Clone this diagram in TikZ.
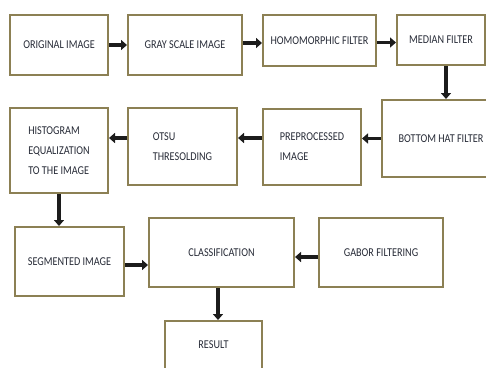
\documentclass[tikz,border=0pt]{standalone}
\usepackage{fontspec}
\setmainfont{Carlito}[FakeStretch=0.85]
\usetikzlibrary{arrows.meta}
\definecolor{boxborder}{RGB}{140,128,84}
\definecolor{arrowcol}{RGB}{28,28,28}
\definecolor{txtcol}{RGB}{40,44,56}
\tikzset{
  box/.style={draw=boxborder, line width=2pt, fill=white, rectangle, inner sep=2pt,
    align=left, font=\fontsize{12}{20}\selectfont, text=txtcol},
  flow/.style={draw=arrowcol, line width=3.6pt, -{Triangle[length=6pt,width=10pt]}}
}
\begin{document}
\begin{tikzpicture}[x=1pt,y=-1pt]
\useasboundingbox (0,0) rectangle (486,367);
\clip (0,0) rectangle (486,367);
\node[box, minimum width=98, minimum height=60] (orig) at (59,45) {ORIGINAL IMAGE};
\node[box, minimum width=114, minimum height=60] (gray) at (185,45) {GRAY SCALE IMAGE};
\node[box, minimum width=113, minimum height=51] (homo) at (319.5,40.5) {HOMOMORPHIC FILTER};
\node[box, minimum width=88, minimum height=50] (median) at (441,40) {MEDIAN FILTER};
\node[box, minimum width=118, minimum height=77] (bottom) at (441,138.5) {BOTTOM HAT FILTER};
\node[box, minimum width=98, minimum height=76] (pre) at (312,147) {PREPROCESSED\\IMAGE};
\node[box, minimum width=109, minimum height=77] (otsu) at (182.5,146.5) {OTSU\\THRESOLDING};
\node[box, minimum width=98, minimum height=85] (hist) at (59,150.5) {HISTOGRAM\\EQUALIZATION\\TO THE IMAGE};
\node[box, minimum width=109, minimum height=69] (seg) at (69.5,261.5) {SEGMENTED IMAGE};
\node[box, minimum width=145, minimum height=69] (class) at (221.5,252.5) {CLASSIFICATION};
\node[box, minimum width=124, minimum height=69] (gabor) at (381,252.5) {GABOR FILTERING};
\node[box, minimum width=97, minimum height=48] (result) at (213.5,345) {RESULT};

\draw[flow] (orig.east) -- (gray.west);
\draw[flow] ([yshift=2pt]gray.east) -- ([yshift=2pt]gray.east -| homo.west);
\draw[flow] ([yshift=-2pt]homo.east) -- ([yshift=-2pt]homo.east -| median.west);
\draw[flow] ([xshift=5pt]median.south) -- ([xshift=5pt]median.south |- bottom.north);
\draw[flow] (bottom.west) -- (bottom.west -| pre.east);
\draw[flow] ([yshift=9pt]pre.west) -- ([yshift=9pt]pre.west -| otsu.east);
\draw[flow] ([yshift=8.5pt]otsu.west) -- ([yshift=8.5pt]otsu.west -| hist.east);
\draw[flow] (hist.south) -- (hist.south |- seg.north);
\draw[flow] ([yshift=-3.5pt]seg.east) -- ([yshift=-3.5pt]seg.east -| class.west);
\draw[flow] ([yshift=-4.5pt]gabor.west) -- ([yshift=-4.5pt]gabor.west -| class.east);
\draw[flow] ([xshift=-3.5pt]class.south) -- ([xshift=-3.5pt]class.south |- result.north);
\end{tikzpicture}
\end{document}
